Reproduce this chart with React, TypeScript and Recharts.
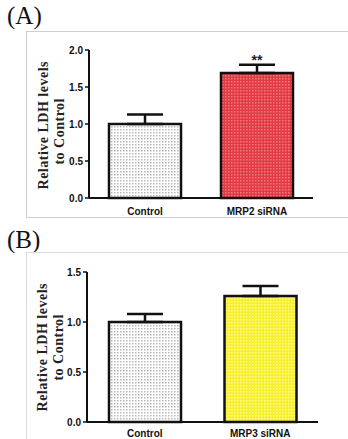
import React from "react";
import { BarChart, Bar, XAxis, YAxis, ErrorBar, LabelList, Cell } from "recharts";

const categoriesA = ["Control", "MRP2 siRNA"];
const valuesA = [1.0, 1.69];
const errorsA = [0.13, 0.11];
const sigA = ["", "**"];
const ticksA = [0, 0.5, 1.0, 1.5, 2.0];

const categoriesB = ["Control", "MRP3 siRNA"];
const valuesB = [1.0, 1.26];
const errorsB = [0.08, 0.1];
const sigB = ["", ""];
const ticksB = [0, 0.5, 1.0, 1.5];

const yLabelLines = ["Relative LDH levels", "to Control"];

const fillsA = ["url(#patCtrl)", "url(#patRed)"];
const fillsB = ["url(#patCtrl)", "url(#patYellow)"];

const dataA = categoriesA.map((c, i) => ({ name: c, value: valuesA[i], err: [0, errorsA[i]], sig: sigA[i] }));
const dataB = categoriesB.map((c, i) => ({ name: c, value: valuesB[i], err: [0, errorsB[i]], sig: sigB[i] }));

const Defs = () => (
  <defs>
    <pattern id="patCtrl" width="3" height="3" patternUnits="userSpaceOnUse">
      <rect width="3" height="3" fill="#ffffff" />
      <rect x="0" y="0" width="1.5" height="1.5" fill="#b8b8b8" />
    </pattern>
    <pattern id="patRed" width="3" height="3" patternUnits="userSpaceOnUse">
      <rect width="3" height="3" fill="#e23a42" />
      <rect x="0" y="0" width="1.5" height="1.5" fill="#f27a80" />
    </pattern>
    <pattern id="patYellow" width="3" height="3" patternUnits="userSpaceOnUse">
      <rect width="3" height="3" fill="#f6ee30" />
      <rect x="0" y="0" width="1.5" height="1.5" fill="#ffff88" />
    </pattern>
  </defs>
);

const SigLabel = (props: any) => {
  const { x, y, width, value } = props;
  if (!value) return null;
  return (
    <text x={x + width / 2} y={y - 8} textAnchor="middle" fontFamily="Liberation Sans" fontSize={14} fontWeight="bold" fill="#222">
      {value}
    </text>
  );
};

const tickStyle = { fontFamily: "Liberation Sans", fontSize: 10, fontWeight: "bold", fill: "#111" } as any;

const VLine = ({ cx, cy, text }: { cx: number; cy: number; text: string }) => (
  <div
    style={{
      position: "absolute",
      left: cx - 7,
      top: cy - 80,
      width: 14,
      height: 160,
      writingMode: "sideways-lr" as any,
      textAlign: "center",
      fontFamily: "Liberation Serif",
      fontSize: 14,
      fontWeight: "bold",
      letterSpacing: 0.5,
      lineHeight: "14px",
      color: "#222",
      whiteSpace: "nowrap",
    }}
  >
    {text}
  </div>
);

export default function App() {
  return (
    <div style={{ position: "absolute", left: 0, top: 0, width: 348, height: 439, background: "#fff", overflow: "hidden" }}>
      <div style={{ position: "absolute", left: 7, top: 2, fontFamily: "Liberation Serif", fontSize: 25, color: "#111" }}>(A)</div>
      <div style={{ position: "absolute", left: 26, top: 31, width: 340, height: 187, border: "1px solid #cfcfcf", boxSizing: "border-box" }} />
      <div style={{ position: "absolute", left: 7, top: 226, fontFamily: "Liberation Serif", fontSize: 25, color: "#111" }}>(B)</div>
      <div style={{ position: "absolute", left: 26, top: 252, width: 340, height: 200, border: "1px solid #dcdcdc", boxSizing: "border-box" }} />

      <div style={{ position: "absolute", left: 0, top: 0 }}>
        <BarChart width={348} height={220} data={dataA} margin={{ top: 50, right: 35, bottom: 2, left: 59 }} barSize={72}>
          <Defs />
          <XAxis dataKey="name" axisLine={{ stroke: "#111", strokeWidth: 2 }} tickLine={false} tick={tickStyle} height={20} tickMargin={4} />
          <YAxis width={30} domain={[0, 2]} ticks={ticksA} tickFormatter={(v: number) => v.toFixed(1)}
            axisLine={{ stroke: "#111", strokeWidth: 2 }} tickLine={{ stroke: "#111", strokeWidth: 1.5 }} tickSize={4} tick={tickStyle} />
          <Bar dataKey="value" stroke="#111" strokeWidth={2.5} isAnimationActive={false}>
            {dataA.map((d, i) => <Cell key={i} fill={fillsA[i]} />)}
            <ErrorBar dataKey="err" width={18} stroke="#111" strokeWidth={2.5} direction="y" />
            <LabelList dataKey="sig" content={<SigLabel />} />
          </Bar>
        </BarChart>
      </div>

      <div style={{ position: "absolute", left: 0, top: 220 }}>
        <BarChart width={348} height={219} data={dataB} margin={{ top: 52, right: 30, bottom: 0, left: 57 }} barSize={72}>
          <Defs />
          <XAxis dataKey="name" axisLine={{ stroke: "#111", strokeWidth: 2 }} tickLine={false} tick={tickStyle} height={17} tickMargin={2} />
          <YAxis width={30} domain={[0, 1.5]} ticks={ticksB} tickFormatter={(v: number) => v.toFixed(1)}
            axisLine={{ stroke: "#111", strokeWidth: 2 }} tickLine={{ stroke: "#111", strokeWidth: 1.5 }} tickSize={4} tick={tickStyle} />
          <Bar dataKey="value" stroke="#111" strokeWidth={2.5} isAnimationActive={false}>
            {dataB.map((d, i) => <Cell key={i} fill={fillsB[i]} />)}
            <ErrorBar dataKey="err" width={18} stroke="#111" strokeWidth={2.5} direction="y" />
            <LabelList dataKey="sig" content={<SigLabel />} />
          </Bar>
        </BarChart>
      </div>

      <VLine cx={44} cy={125} text={yLabelLines[0]} />
      <VLine cx={60} cy={131} text={yLabelLines[1]} />
      <VLine cx={43} cy={347} text={yLabelLines[0]} />
      <VLine cx={59} cy={347} text={yLabelLines[1]} />
    </div>
  );
}
